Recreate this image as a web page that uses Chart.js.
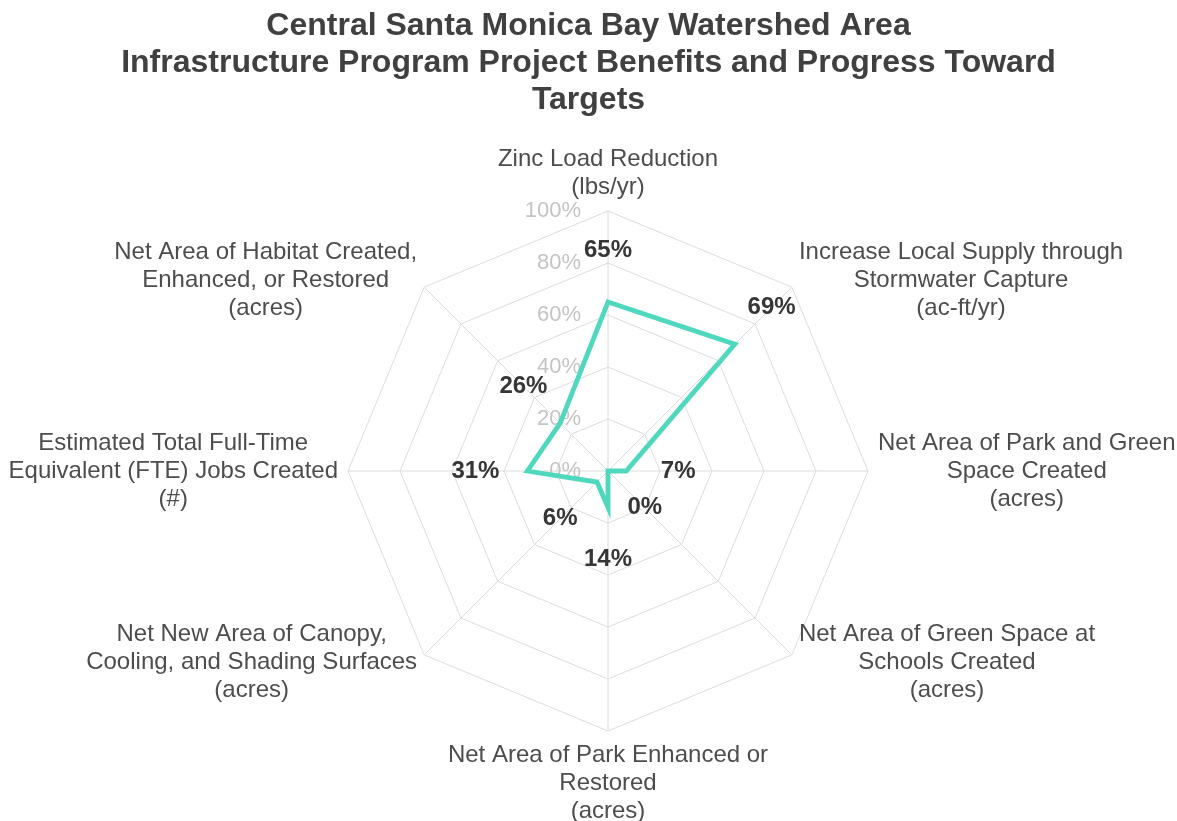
<!DOCTYPE html>
<html>
<head>
<meta charset="utf-8">
<script src="https://cdn.jsdelivr.net/npm/chart.js@4.4.1/dist/chart.umd.min.js"></script>
<style>
  html, body { margin: 0; padding: 0; background: #fff; }
  #wrap { width: 1177px; height: 821px; position: relative; }
</style>
</head>
<body>
<div id="wrap"><canvas id="chart"></canvas></div>
<script>
  const FONT = '"Liberation Sans", Arial, Helvetica, sans-serif';

  const titleLines = [
    'Central Santa Monica Bay Watershed Area',
    'Infrastructure Program Project Benefits and Progress Toward',
    'Targets'
  ];

  // clockwise from the top
  const categories = [
    ['Zinc Load Reduction', '(lbs/yr)'],
    ['Increase Local Supply through', 'Stormwater Capture', '(ac-ft/yr)'],
    ['Net Area of Park and Green', 'Space Created', '(acres)'],
    ['Net Area of Green Space at', 'Schools Created', '(acres)'],
    ['Net Area of Park Enhanced or', 'Restored', '(acres)'],
    ['Net New Area of Canopy,', 'Cooling, and Shading Surfaces', '(acres)'],
    ['Estimated Total Full-Time', 'Equivalent (FTE) Jobs Created', '(#)'],
    ['Net Area of Habitat Created,', 'Enhanced, or Restored', '(acres)']
  ];

  const progress = [65, 69, 7, 0, 14, 6, 31, 26];
  const tickValues = [0, 20, 40, 60, 80, 100];

  const LABEL_SIZE = 24;
  const LABEL_LINE = 28;

  // tick labels (under the line), value labels and the category labels
  const radarText = {
    id: 'radarText',
    beforeDatasetsDraw(chart) {
      const s = chart.scales.r, ctx = chart.ctx;
      ctx.save();
      ctx.font = '22px ' + FONT;
      ctx.fillStyle = '#c4c4c4';
      ctx.textAlign = 'right';
      ctx.textBaseline = 'middle';
      tickValues.forEach(v => {
        const p = s.getPointPositionForValue(0, v);
        ctx.fillText(v + '%', p.x - 27, p.y);
      });
      ctx.restore();
    },
    afterDatasetsDraw(chart) {
      const s = chart.scales.r, ctx = chart.ctx;
      ctx.save();
      ctx.font = 'bold 24px ' + FONT;
      ctx.fillStyle = '#363636';
      ctx.textAlign = 'center';
      ctx.textBaseline = 'middle';
      progress.forEach((v, i) => {
        const p = s.getPointPosition(i, s.getDistanceFromCenterForValue(v) + 52);
        ctx.fillText(v + '%', p.x, p.y);
      });

      ctx.font = LABEL_SIZE + 'px ' + FONT;
      ctx.fillStyle = '#4d4d4d';
      categories.forEach((lines, i) => {
        const p = s.getPointPosition(i, s.drawingArea + 10);
        const deg = Math.round(s.getIndexAngle(i) * 180 / Math.PI) % 360;
        const w = Math.max(...lines.map(t => ctx.measureText(t).width));
        const h = lines.length * LABEL_LINE;
        let cx = p.x, top = p.y - h / 2;
        if (deg === 0) top = p.y - h;
        else if (deg === 180) top = p.y;
        else if (deg < 180) cx = p.x + w / 2;
        else cx = p.x - w / 2;
        lines.forEach((t, k) => ctx.fillText(t, cx, top + LABEL_LINE * (k + 0.5)));
      });
      ctx.restore();
    }
  };

  new Chart(document.getElementById('chart'), {
    type: 'radar',
    data: {
      labels: categories,
      datasets: [{
        label: 'Progress',
        data: progress,
        borderColor: '#4fd8be',
        backgroundColor: 'transparent',
        borderWidth: 4.8,
        borderJoinStyle: 'miter',
        fill: false,
        pointRadius: 0,
        pointHoverRadius: 0,
        tension: 0
      }]
    },
    options: {
      responsive: true,
      maintainAspectRatio: false,
      animation: false,
      layout: { padding: { left: 0, right: 0, top: 0, bottom: 89 } },
      plugins: {
        legend: { display: false },
        tooltip: { enabled: false },
        title: {
          display: true,
          text: titleLines,
          color: '#404040',
          font: { family: FONT, size: 32, weight: 'bold', lineHeight: 1.156 },
          padding: { top: 8, bottom: 93 }
        }
      },
      scales: {
        r: {
          min: 0,
          max: 100,
          ticks: { display: false, stepSize: 20 },
          grid: { color: '#dcdcdc', lineWidth: 1 },
          angleLines: { color: '#dcdcdc', lineWidth: 1 },
          pointLabels: { display: false },
          // the plot sits a little right of the page centre, the title does not
          afterFit: s => { s.xCenter += 20; }
        }
      }
    },
    plugins: [radarText]
  });
</script>
</body>
</html>
